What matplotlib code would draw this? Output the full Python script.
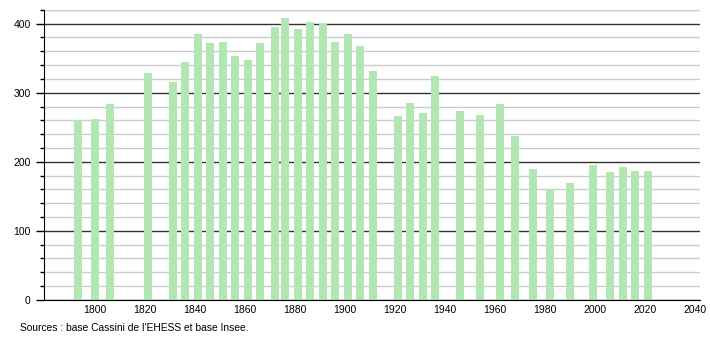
import matplotlib
matplotlib.use("Agg")
import matplotlib.pyplot as plt
from matplotlib.ticker import MultipleLocator

years = [1793, 1800, 1806, 1821, 1831, 1836, 1841, 1846, 1851, 1856,
         1861, 1866, 1872, 1876, 1881, 1886, 1891, 1896, 1901, 1906,
         1911, 1921, 1926, 1931, 1936, 1946, 1954, 1962, 1968, 1975,
         1982, 1990, 1999, 2006, 2011, 2016, 2021]
population = [261, 262, 284, 328, 315, 344, 385, 372, 374, 353,
              348, 372, 395, 408, 393, 402, 401, 374, 385, 367,
              332, 267, 285, 270, 324, 274, 268, 283, 238, 190,
              160, 169, 196, 185, 193, 187, 187]
xticks = list(range(1800, 2041, 20))
source = "Sources : base Cassini de l'EHESS et base Insee."

plt.rcParams['font.family'] = ['Liberation Sans', 'DejaVu Sans']

fig = plt.figure(figsize=(7.1, 3.4), dpi=100)
ax = fig.add_axes([0.062, 0.118, 0.924, 0.853])

ax.bar(years, population, width=3.2, color='#b2e6b2', zorder=3)

ax.set_xlim(1779.6, 2042)
ax.set_ylim(0, 420)
ax.set_xticks(xticks)
ax.tick_params(axis='x', length=0, labelsize=7.5, pad=4)
ax.yaxis.set_major_locator(MultipleLocator(100))
ax.yaxis.set_minor_locator(MultipleLocator(20))
ax.tick_params(axis='y', which='major', length=6, width=1, labelsize=7.5, direction='out')
ax.tick_params(axis='y', which='minor', length=3, width=1, direction='out')

ax.grid(axis='y', which='minor', color='#cccccc', linewidth=1, zorder=1)
ax.grid(axis='y', which='major', color='#333333', linewidth=1, zorder=2)
ax.axhline(420, color='#cccccc', linewidth=1, zorder=1)

for side in ['top', 'right']:
    ax.spines[side].set_visible(False)
ax.spines['left'].set_color('black')
ax.spines['bottom'].set_color('black')
ax.spines['left'].set_zorder(4)
ax.spines['bottom'].set_zorder(4)

fig.text(20 / 710, 1 - 328 / 340, source, fontsize=7.4, va='center', ha='left')

fig.savefig("out.png", dpi=100)
